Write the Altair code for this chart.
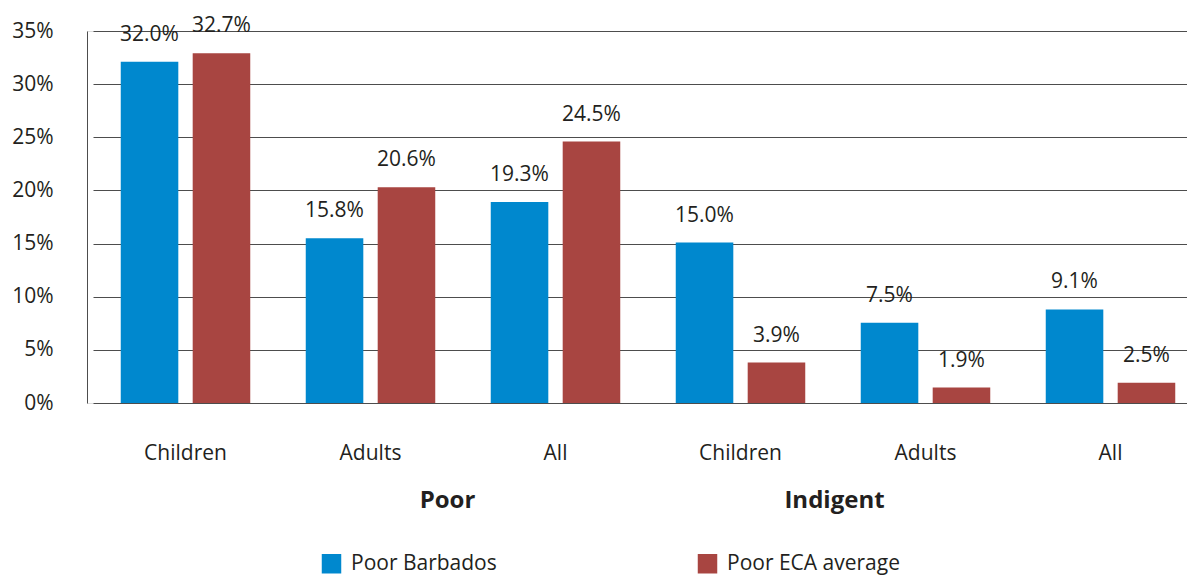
import altair as alt
import pandas as pd

groups = ["Poor", "Poor", "Poor", "Indigent", "Indigent", "Indigent"]
categories = ["Children", "Adults", "All", "Children", "Adults", "All"]
series = ["Poor Barbados", "Poor ECA average"]
# bar heights (%)
barbados_values = [32.1, 15.5, 18.9, 15.1, 7.55, 8.8]
eca_values = [32.9, 20.3, 24.6, 3.8, 1.45, 1.9]
# printed data labels
barbados_labels = ["32.0%", "15.8%", "19.3%", "15.0%", "7.5%", "9.1%"]
eca_labels = ["32.7%", "20.6%", "24.5%", "3.9%", "1.9%", "2.5%"]
colors = ["#0088CE", "#A84541"]
y_ticks = [0, 5, 10, 15, 20, 25, 30, 35]
group_names = ["Poor", "Indigent"]

FONT = "Open Sans"
TXT = "#231F20"

keys = [g + "|" + c for g, c in zip(groups, categories)]
rows = []
for i, k in enumerate(keys):
    rows.append({"key": k, "series": series[0], "value": barbados_values[i], "label": barbados_labels[i]})
    rows.append({"key": k, "series": series[1], "value": eca_values[i], "label": eca_labels[i]})
df = pd.DataFrame(rows)

x_enc = alt.X(
    "key:N", sort=keys,
    scale=alt.Scale(range=[6, 1116], paddingInner=0.3, paddingOuter=0.15),
    axis=alt.Axis(title=None, labelExpr="split(datum.label, '|')[1]", domain=False, ticks=False,
                  labelPadding=39, labelFontSize=21, labelFont=FONT, labelColor=TXT, labelAngle=0),
)
xo_enc = alt.XOffset("series:N", sort=series, scale=alt.Scale(paddingInner=0.2, paddingOuter=0))
y_enc = alt.Y(
    "value:Q", scale=alt.Scale(domain=[0, 35], nice=False),
    axis=alt.Axis(title=None, values=y_ticks, labelExpr="datum.value + '%'", ticks=False,
                  grid=True, gridColor="#4d4d4d", gridWidth=1, domainColor="#4d4d4d",
                  labelPadding=34, labelFontSize=21, labelFont=FONT, labelColor=TXT),
)

base = alt.Chart(df)
bars = base.mark_bar().encode(
    x=x_enc, xOffset=xo_enc, y=y_enc,
    color=alt.Color("series:N", sort=series, scale=alt.Scale(domain=series, range=colors),
                    legend=alt.Legend(title=None, orient="none", legendX=234, legendY=522,
                                      direction="horizontal", symbolType="square", symbolSize=380,
                                      symbolStrokeWidth=0, symbolOpacity=1, labelFontSize=21, labelFont=FONT,
                                      labelColor=TXT, labelOffset=9, labelLimit=400, columnPadding=200,
                                      padding=0)),
)
labels = base.mark_text(baseline="alphabetic", dy=-21, fontSize=21, font=FONT, color=TXT).encode(
    x=x_enc, xOffset=xo_enc, y=y_enc, text="label:N"
)

gdf = pd.DataFrame({"key": [g + "|Adults" for g in group_names], "name": group_names, "value": [0, 0]})
poor_lbl = alt.Chart(gdf[gdf["name"] == "Poor"]).mark_text(
    fontSize=24, fontWeight="bold", font=FONT, color=TXT, dx=77, dy=98, baseline="middle"
).encode(x=alt.X("key:N", sort=keys), y=alt.Y("value:Q"), text="name:N")
ind_lbl = alt.Chart(gdf[gdf["name"] == "Indigent"]).mark_text(
    fontSize=24, fontWeight="bold", font=FONT, color=TXT, dx=-91, dy=98, baseline="middle"
).encode(x=alt.X("key:N", sort=keys), y=alt.Y("value:Q"), text="name:N")

chart = alt.layer(bars, labels, poor_lbl, ind_lbl).properties(
    width=1100, height=372,
    autosize=alt.AutoSizeParams(type="none"),
    padding={"left": 87, "top": 31, "right": 0, "bottom": 172},
).configure_view(stroke=None).configure(background="white")

chart.save("out.html", embed_options={"renderer": "svg", "actions": False})
